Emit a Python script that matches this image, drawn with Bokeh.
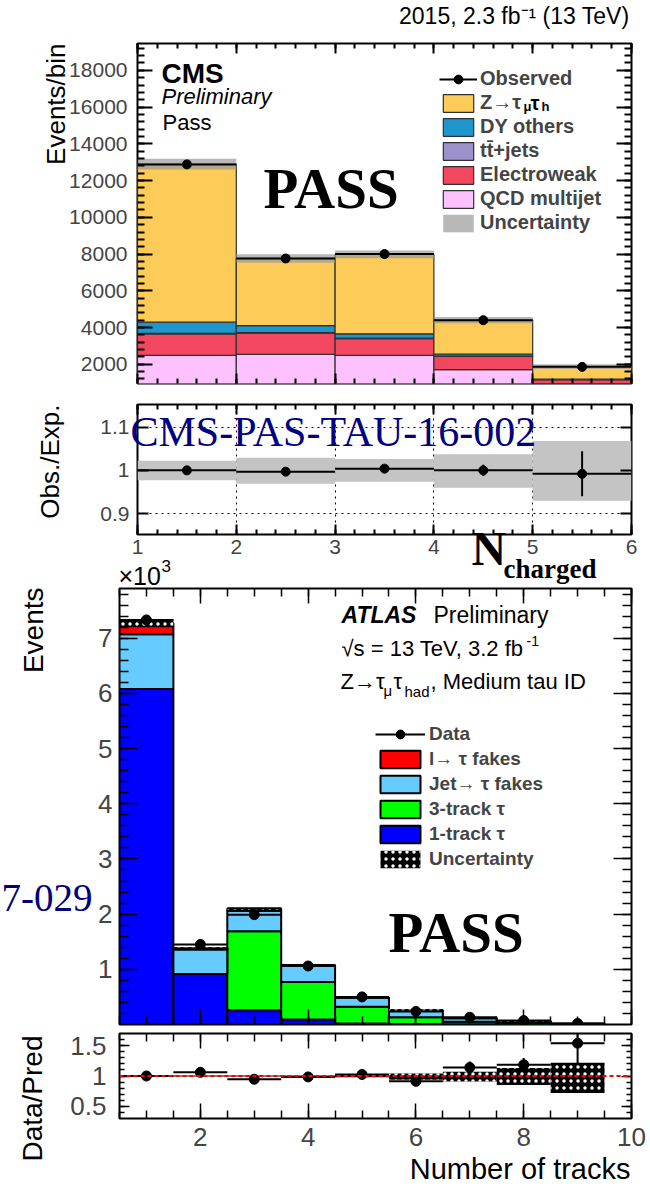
import numpy as np
from bokeh.plotting import figure
from bokeh.models import (ColumnDataSource, Range1d, LinearAxis, FixedTicker, Label,
                          Legend, LegendItem, Span, Grid, PrintfTickFormatter, GridBox)
from bokeh.embed import file_html
from bokeh.resources import INLINE

SANS = "Liberation Sans"
SERIF = "Liberation Serif"
NAVY = "#000080"
W = 650
H = 1186

# ---------------- CMS: charged-track multiplicity, pass region ----------------
cms_edges = [1, 2, 3, 4, 5, 6]
cms_qcd = [2490, 2540, 2490, 1710, 900]
cms_ewk = [1170, 1150, 900, 720, 260]
cms_ttbar = [30, 30, 30, 20, 10]
cms_dy = [600, 390, 240, 110, 20]
cms_ztt = [8610, 3660, 4320, 1850, 690]
cms_obs = [12880, 7760, 8000, 4400, 1860]
cms_ratio = [1.0, 0.997, 1.004, 1.0, 0.992]
cms_ratio_err = [0.003, 0.004, 0.004, 0.013, 0.052]
cms_unc_hi = [1.022, 1.029, 1.026, 1.037, 1.068]
cms_unc_lo = [0.977, 0.969, 0.974, 0.960, 0.930]

# ---------------- ATLAS: number of tracks, pass region ----------------
atlas_edges = [0.5, 1.5, 2.5, 3.5, 4.5, 5.5, 6.5, 7.5, 8.5, 9.5]
atlas_centers = [1, 2, 3, 4, 5, 6, 7, 8, 9]
atlas_one_track = [6080, 913, 260, 90, 20, 8, 3, 1, 0]
atlas_three_track = [0, 0, 1430, 680, 300, 125, 48, 22, 4]
atlas_jet_fakes = [990, 447, 370, 290, 165, 120, 60, 35, 8]
atlas_lep_fakes = [200, 20, 40, 20, 5, 7, 4, 2, 1]
atlas_data = [7330, 1450, 1990, 1060, 500, 237, 131, 71, 20]
atlas_ratio = [1.0, 1.06, 0.946, 0.985, 1.025, 0.912, 1.14, 1.185, 1.54]
atlas_ratio_err = [0.012, 0.03, 0.022, 0.03, 0.045, 0.06, 0.1, 0.11, 0.33]
atlas_unc_hi = [1.01, 1.01, 1.01, 1.01, 1.02, 1.04, 1.07, 1.13, 1.22]
atlas_unc_lo = [0.99, 0.99, 0.99, 0.99, 0.98, 0.94, 0.91, 0.85, 0.72]


def panel(height, xr, yr, left, top, bottom):
    p = figure(width=W, height=height, x_range=Range1d(*xr), y_range=Range1d(*yr),
               output_backend="svg", toolbar_location=None,
               x_axis_location=None, y_axis_location=None,
               min_border_left=left, min_border_right=W - 631,
               min_border_top=top, min_border_bottom=bottom)
    p.frame_align = False
    p.outline_line_color = "black"
    p.outline_line_width = 2
    p.outline_line_alpha = 1
    p.grid.visible = False
    p.background_fill_color = "white"
    p.border_fill_color = "white"
    return p


def axis(p, side, major, minor, tin, tmin, lw, size=None, standoff=0):
    ax = LinearAxis(ticker=FixedTicker(ticks=list(major), minor_ticks=list(minor)),
                    formatter=PrintfTickFormatter(format="%g"))
    ax.axis_line_color = None
    ax.major_tick_in = tin
    ax.major_tick_out = 0
    ax.minor_tick_in = tmin
    ax.minor_tick_out = 0
    ax.major_tick_line_width = lw
    ax.minor_tick_line_width = lw
    if size:
        ax.major_label_text_font = SANS
        ax.major_label_text_font_size = f"{size}px"
        ax.major_label_standoff = standoff
    else:
        # mirrored axis: ticks only
        ax.major_label_text_color = None
        ax.major_label_text_font_size = "1px"
        ax.major_label_standoff = 0
    p.add_layout(ax, side)


# =============================== CMS main ===============================
p1 = panel(392, (1, 6), (955, 19460), 137, 43, 9)
x_minor_cms = np.round(np.arange(1, 6.01, 0.2), 3)
y_minor_cms = np.arange(1200, 19400, 400)
axis(p1, "left", range(2000, 18001, 2000), y_minor_cms, 15, 7, 2, 21, 10)
axis(p1, "right", range(2000, 18001, 2000), y_minor_cms, 15, 7, 2)
axis(p1, "below", range(1, 7), x_minor_cms, 10, 5, 2)
axis(p1, "above", range(1, 7), x_minor_cms, 10, 5, 2)

x0 = cms_edges[:-1]
x1 = cms_edges[1:]
base = np.zeros(len(x0))
cms_layers = [("qcd", cms_qcd, "#fdc1fd"), ("ewk", cms_ewk, "#f3465f"),
              ("tt", cms_ttbar, "#9d91cb"), ("dy", cms_dy, "#1d96cb"),
              ("ztt", cms_ztt, "#fdcb58")]
cms_r = {}
for key, vals, col in cms_layers:
    top = base + np.array(vals, dtype=float)
    src = ColumnDataSource(dict(left=x0, right=x1, bottom=base, top=top))
    cms_r[key] = p1.quad(left="left", right="right", bottom="bottom", top="top", source=src,
                         fill_color=col, line_color="#303030", line_width=1.2)
    base = top
cms_total = base
band_src = ColumnDataSource(dict(left=x0, right=x1,
                                 bottom=cms_total * np.array(cms_unc_lo),
                                 top=cms_total * np.array(cms_unc_hi)))
cms_band = p1.quad(left="left", right="right", bottom="bottom", top="top", source=band_src,
                   fill_color="#9a9a9a", fill_alpha=0.7, line_color=None)
cms_xc = [0.5 * (a + b) for a, b in zip(x0, x1)]
obs_src = ColumnDataSource(dict(x=cms_xc, y=cms_obs, l=x0, r=x1))
cms_seg = p1.segment(x0="l", y0="y", x1="r", y1="y", source=obs_src, line_color="black", line_width=2)
cms_dot = p1.scatter(x="x", y="y", source=obs_src, size=9, color="black")

leg1 = Legend(items=[
    LegendItem(label="Observed", renderers=[cms_seg, cms_dot]),
    LegendItem(label="Z→τ", renderers=[cms_r["ztt"]]),
    LegendItem(label="DY others", renderers=[cms_r["dy"]]),
    LegendItem(label="tt̄+jets", renderers=[cms_r["tt"]]),
    LegendItem(label="Electroweak", renderers=[cms_r["ewk"]]),
    LegendItem(label="QCD multijet", renderers=[cms_r["qcd"]]),
    LegendItem(label="Uncertainty", renderers=[cms_band]),
], location=(302, 149), label_text_font=SANS, label_text_font_style="bold",
    label_text_font_size="20px", glyph_width=38, glyph_height=22, label_height=22,
    label_standoff=3, spacing=1, padding=0, margin=0, border_line_color=None,
    background_fill_alpha=0)
p1.add_layout(leg1)

# =============================== CMS ratio ===============================
p2 = panel(193, (1, 6), (0.852, 1.152), 137, 12, 51)
axis(p2, "left", [0.9, 1.0, 1.1], [], 11, 5, 2, 21, 8)
axis(p2, "right", [0.9, 1.0, 1.1], [], 11, 5, 2)
axis(p2, "below", range(1, 7), x_minor_cms, 10, 5, 2, 21, 5)
axis(p2, "above", range(1, 7), x_minor_cms, 10, 5, 2)
p2.add_layout(Grid(dimension=0, ticker=FixedTicker(ticks=[2, 3, 4, 5]),
                   grid_line_color="black", grid_line_dash="dotted", grid_line_width=1))
p2.add_layout(Grid(dimension=1, ticker=FixedTicker(ticks=[0.9, 1.0, 1.1]),
                   grid_line_color="black", grid_line_dash="dotted", grid_line_width=1))
p2.quad(left=x0, right=x1, bottom=cms_unc_lo, top=cms_unc_hi, fill_color="#c4c4c4", line_color=None)
r_src = ColumnDataSource(dict(x=cms_xc, y=cms_ratio, l=x0, r=x1,
                              lo=np.array(cms_ratio) - np.array(cms_ratio_err),
                              hi=np.array(cms_ratio) + np.array(cms_ratio_err)))
p2.segment(x0="l", y0="y", x1="r", y1="y", source=r_src, line_color="black", line_width=2)
p2.segment(x0="x", y0="lo", x1="x", y1="hi", source=r_src, line_color="black", line_width=2)
p2.scatter(x="x", y="y", source=r_src, size=9, color="black")

# =============================== ATLAS main ===============================
p3 = panel(443, (0.5, 10), (0, 7.9), 119, 3, 4)
x_minor_atl = np.arange(0.5, 10.01, 0.5)
y_minor_atl = np.round(np.arange(0.2, 7.9, 0.2), 3)
axis(p3, "left", range(1, 8), y_minor_atl, 18, 9, 1.5, 26, 7)
axis(p3, "right", range(1, 8), y_minor_atl, 18, 9, 1.5)
axis(p3, "below", [2, 4, 6, 8, 10], x_minor_atl, 15, 8, 1.5)
axis(p3, "above", [2, 4, 6, 8, 10], x_minor_atl, 15, 8, 1.5)

a0 = atlas_edges[:-1]
a1 = atlas_edges[1:]
base = np.zeros(len(a0))
atlas_layers = [("one", atlas_one_track, "#0000ff"), ("three", atlas_three_track, "#00ff00"),
                ("jet", atlas_jet_fakes, "#66ccff"), ("lep", atlas_lep_fakes, "#ff0000")]
atl_r = {}
for key, vals, col in atlas_layers:
    top = base + np.array(vals, dtype=float) / 1000.0
    src = ColumnDataSource(dict(left=a0, right=a1, bottom=base, top=top))
    atl_r[key] = p3.quad(left="left", right="right", bottom="bottom", top="top", source=src,
                         fill_color=col, line_color="black", line_width=2)
    base = top
atl_total = base
atl_band = p3.quad(left=a0, right=a1, bottom=atl_total * np.array(atlas_unc_lo),
                   top=atl_total * np.array(atlas_unc_hi), fill_color="black",
                   hatch_pattern="dot", hatch_color="white", hatch_scale=7, line_color=None)
d_src = ColumnDataSource(dict(x=atlas_centers, y=np.array(atlas_data) / 1000.0, l=a0, r=a1))
atl_seg = p3.segment(x0="l", y0="y", x1="r", y1="y", source=d_src, line_color="black", line_width=2)
atl_dot = p3.scatter(x="x", y="y", source=d_src, size=10, color="black")

leg3 = Legend(items=[
    LegendItem(label="Data", renderers=[atl_seg, atl_dot]),
    LegendItem(label="l→ τ fakes", renderers=[atl_r["lep"]]),
    LegendItem(label="Jet→ τ fakes", renderers=[atl_r["jet"]]),
    LegendItem(label="3-track τ", renderers=[atl_r["three"]]),
    LegendItem(label="1-track τ", renderers=[atl_r["one"]]),
    LegendItem(label="Uncertainty", renderers=[atl_band]),
], location=(256, 154), label_text_font=SANS, label_text_font_style="bold",
    label_text_font_size="19px", glyph_width=50, glyph_height=22, label_height=22,
    label_standoff=4, spacing=3, padding=0, margin=0, border_line_color=None,
    background_fill_alpha=0)
p3.add_layout(leg3)

# =============================== ATLAS ratio ===============================
p4 = panel(158, (0.5, 10), (0.3, 1.7), 119, 5, 68)
y_minor_r = np.round(np.arange(0.4, 1.7, 0.1), 3)
axis(p4, "left", [0.5, 1.0, 1.5], y_minor_r, 10, 5, 1.5, 26, 13)
axis(p4, "right", [0.5, 1.0, 1.5], y_minor_r, 10, 5, 1.5)
axis(p4, "below", [2, 4, 6, 8, 10], x_minor_atl, 15, 8, 1.5, 26, 9)
axis(p4, "above", [2, 4, 6, 8, 10], x_minor_atl, 15, 8, 1.5)
p4.quad(left=a0, right=a1, bottom=atlas_unc_lo, top=atlas_unc_hi, fill_color="black",
        hatch_pattern="dot", hatch_color="white", hatch_scale=7, line_color=None)
p4.add_layout(Span(location=1.0, dimension="width", line_color="red",
                   line_dash="4 3", line_width=2))
ar_src = ColumnDataSource(dict(x=atlas_centers, y=atlas_ratio, l=a0, r=a1,
                               lo=np.array(atlas_ratio) - np.array(atlas_ratio_err),
                               hi=np.array(atlas_ratio) + np.array(atlas_ratio_err)))
p4.segment(x0="l", y0="y", x1="r", y1="y", source=ar_src, line_color="black", line_width=2)
p4.segment(x0="x", y0="lo", x1="x", y1="hi", source=ar_src, line_color="black", line_width=2)
p4.scatter(x="x", y="y", source=ar_src, size=10, color="black")

# ============ transparent text layer spanning the whole page (pixel coordinates) ============
ov = figure(width=W, height=H, x_range=Range1d(0, W), y_range=Range1d(H, 0),
            output_backend="svg", toolbar_location=None,
            x_axis_location=None, y_axis_location=None,
            min_border_left=0, min_border_right=0, min_border_top=0, min_border_bottom=0)
ov.frame_align = False
ov.outline_line_color = None
ov.grid.visible = False
ov.background_fill_alpha = 0
ov.border_fill_alpha = 0


def text(x, y, s, size, font=SANS, style="normal", color="black", align="left", angle=0.0):
    ov.add_layout(Label(x=x, y=y, text=s, text_font=font, text_font_size=f"{size}px",
                        text_font_style=style, text_color=color, text_align=align,
                        text_baseline="middle", angle=angle))


# CMS header and labels
text(629, 15, "2015, 2.3 fb⁻¹ (13 TeV)", 23, align="right")
text(161, 73, "CMS", 28, style="bold")
text(161, 95.5, "Preliminary", 22, style="italic")
text(162, 121.5, "Pass", 22)
text(263, 187.5, "PASS", 57, font=SERIF, style="bold")
text(55, 43, "Events/bin", 26, align="right", angle=np.pi / 2)
text(523, 106, "μ", 13, style="bold")
text(530, 102, "τ", 20, style="bold")
text(541, 106, "h", 13, style="bold")
text(130, 431, "CMS-PAS-TAU-16-002", 42, font=SERIF, color=NAVY)
text(49, 404, "Obs./Exp.", 26, align="right", angle=np.pi / 2)
text(471, 548, "N", 48, font=SERIF, style="bold")
text(503, 568.5, "charged", 27, font=SERIF, style="bold")
text(118, 575, "×10", 25)
text(161, 565.5, "3", 17)

# ATLAS labels
text(32.5, 587, "Events", 28, align="right", angle=np.pi / 2)
text(341, 614.7, "ATLAS", 23, style="bold italic")
text(433, 614.7, "Preliminary", 23)
text(341, 648, "√s = 13 TeV, 3.2 fb", 22)
text(526, 640, "-1", 14)
text(340, 681, "Z→τ", 22)
text(383, 690, "μ", 15)
text(393, 681, "τ", 22)
text(404, 691, "had", 15)
text(430, 681, ", Medium tau ID", 22)
text(388, 931.7, "PASS", 57, font=SERIF, style="bold")
text(92, 897.5, "7-029", 39, font=SERIF, color=NAVY, align="right")
text(32, 1035, "Data/Pred", 28, align="right", angle=np.pi / 2)
text(630, 1168, "Number of tracks", 29, align="right")

layout = GridBox(children=[(p1, 0, 0), (p2, 1, 0), (p3, 2, 0), (p4, 3, 0), (ov, 0, 0, 4, 1)],
                 spacing=0)
open("out.html", "w").write(file_html(layout, INLINE))
